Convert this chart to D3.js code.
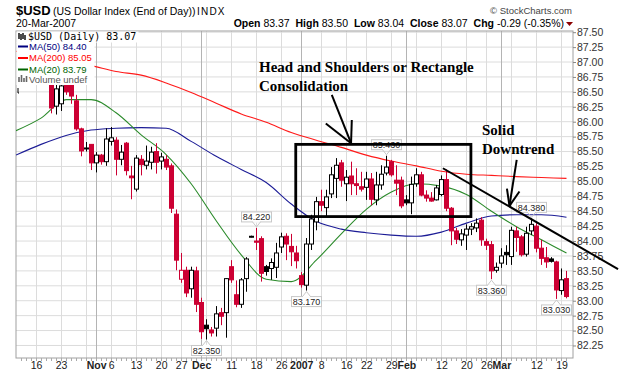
<!DOCTYPE html>
<html>
<head>
<meta charset="utf-8">
<script src="https://cdn.jsdelivr.net/npm/d3@7"></script>
<style>
    body { margin: 0; background: #fff; }
    svg { display: block; }
</style>
</head>
<body>
<svg id="chart" width="620" height="376" font-family="'Liberation Sans', Arial, sans-serif"></svg>
<script>
// trading days shown on the chart
const dates = [
    '2006-10-11','2006-10-12','2006-10-13','2006-10-16','2006-10-17','2006-10-18','2006-10-19','2006-10-20',
    '2006-10-23','2006-10-24','2006-10-25','2006-10-26','2006-10-27','2006-10-30','2006-10-31',
    '2006-11-01','2006-11-02','2006-11-03','2006-11-06','2006-11-07','2006-11-08','2006-11-09','2006-11-10',
    '2006-11-13','2006-11-14','2006-11-15','2006-11-16','2006-11-17','2006-11-20','2006-11-21','2006-11-22',
    '2006-11-24','2006-11-27','2006-11-28','2006-11-29','2006-11-30',
    '2006-12-01','2006-12-04','2006-12-05','2006-12-06','2006-12-07','2006-12-08','2006-12-11','2006-12-12',
    '2006-12-13','2006-12-14','2006-12-15','2006-12-18','2006-12-19','2006-12-20','2006-12-21','2006-12-22',
    '2006-12-26','2006-12-27','2006-12-28','2006-12-29',
    '2007-01-02','2007-01-03','2007-01-04','2007-01-05','2007-01-08','2007-01-09','2007-01-10','2007-01-11',
    '2007-01-12','2007-01-16','2007-01-17','2007-01-18','2007-01-19','2007-01-22','2007-01-23','2007-01-24',
    '2007-01-25','2007-01-26','2007-01-29','2007-01-30','2007-01-31',
    '2007-02-01','2007-02-02','2007-02-05','2007-02-06','2007-02-07','2007-02-08','2007-02-09','2007-02-12',
    '2007-02-13','2007-02-14','2007-02-15','2007-02-16','2007-02-20','2007-02-21','2007-02-22','2007-02-23',
    '2007-02-26','2007-02-27','2007-02-28',
    '2007-03-01','2007-03-02','2007-03-05','2007-03-06','2007-03-07','2007-03-08','2007-03-09','2007-03-12',
    '2007-03-13','2007-03-14','2007-03-15','2007-03-16','2007-03-19','2007-03-20'
];

const open = [
    86.95, 87.02, 87.20, 87.28, 87.05, 87.12, 86.72, 86.26, 86.30, 86.80, 86.75, 86.35, 85.88, 85.55, 85.62,
    85.31, 85.44, 85.33, 85.67, 85.69, 85.37, 85.64, 85.09, 84.87, 85.37, 85.27, 85.32, 85.50, 85.34, 85.37,
    85.26, 84.45, 83.36, 83.51, 83.20, 83.50,
    82.97, 82.59, 82.51, 82.54, 82.80, 82.80, 83.57, 83.10, 82.94, 83.37, 84.07, 84.00, 84.04, 83.57, 83.54,
    83.56, 83.90, 84.08, 83.91, 83.80,
    83.42, 83.26, 83.95, 84.32, 84.66, 84.56, 84.79, 85.05, 85.31, 84.96, 85.09, 84.96, 84.91, 84.90, 85.04,
    84.69, 84.94, 85.14, 85.33, 85.02, 85.02,
    84.69, 84.64, 84.96, 85.11, 84.77, 84.72, 84.69, 84.78, 85.03, 84.55, 84.17, 84.02, 84.10, 84.20, 84.22,
    84.35, 83.99, 83.94, 83.51,
    83.63, 83.81, 83.74, 84.17, 84.07, 83.78, 84.17, 84.25, 83.88, 83.72, 83.70, 83.65, 83.17, 83.37
];
const high = [
    87.10, 87.25, 87.35, 87.33, 87.20, 87.16, 86.78, 86.65, 86.75, 86.86, 86.80, 86.45, 85.90, 85.66, 85.62,
    85.49, 85.46, 85.89, 85.91, 85.74, 85.61, 85.66, 85.26, 85.44, 85.44, 85.60, 85.58, 85.64, 85.48, 85.44,
    85.30, 84.53, 83.80, 83.57, 83.57, 83.57,
    83.05, 82.69, 82.56, 82.91, 82.88, 83.38, 83.68, 83.34, 83.38, 83.73, 84.09, 84.22, 84.08, 83.60, 83.71,
    83.97, 84.14, 84.13, 84.12, 83.92,
    83.48, 84.05, 84.44, 84.74, 84.86, 84.86, 85.24, 85.39, 85.36, 85.19, 85.33, 85.22, 85.16, 85.16, 85.14,
    85.16, 85.27, 85.43, 85.36, 85.27, 85.08,
    84.77, 85.08, 85.22, 85.16, 84.85, 84.82, 84.94, 85.10, 85.20, 84.57, 84.22, 84.20, 84.28, 84.30, 84.38,
    84.40, 84.04, 84.00, 83.64,
    83.88, 83.93, 84.24, 84.24, 84.10, 84.24, 84.38, 84.30, 84.02, 83.90, 83.73, 83.67, 83.54, 83.50
];
const low = [
    86.88, 86.95, 87.05, 86.98, 86.90, 86.86, 86.14, 86.12, 86.18, 86.45, 86.30, 85.85, 85.42, 85.50, 85.19,
    85.15, 85.28, 85.26, 85.60, 85.10, 85.27, 85.10, 84.70, 84.83, 85.10, 85.20, 85.20, 85.13, 85.20, 85.19,
    84.47, 83.51, 83.30, 83.06, 83.05, 82.81,
    82.36, 82.35, 82.40, 82.40, 82.59, 82.38, 83.30, 82.89, 82.88, 83.15, 84.06, 83.85, 83.32, 83.42, 83.35,
    83.38, 83.80, 83.68, 83.58, 83.54,
    83.22, 83.17, 83.85, 84.18, 84.50, 84.41, 84.72, 84.72, 84.91, 84.67, 84.77, 84.77, 84.83, 84.69, 84.60,
    84.60, 84.86, 85.10, 85.08, 84.77, 84.55,
    84.60, 84.45, 84.91, 84.75, 84.66, 84.66, 84.68, 84.75, 84.50, 83.93, 83.95, 83.92, 83.85, 84.10, 84.15,
    83.92, 83.85, 83.36, 83.47,
    83.55, 83.60, 83.60, 83.82, 83.74, 83.74, 84.10, 83.81, 83.60, 83.55, 83.64, 83.03, 83.10, 83.04
];
const close = [
    87.02, 87.20, 87.28, 87.05, 87.12, 86.92, 86.23, 86.55, 86.60, 86.50, 86.43, 85.88, 85.51, 85.56, 85.31,
    85.44, 85.33, 85.71, 85.73, 85.37, 85.49, 85.18, 85.06, 85.39, 85.28, 85.34, 85.49, 85.32, 85.41, 85.24,
    84.55, 83.68, 83.51, 83.13, 83.51, 82.94,
    82.48, 82.53, 82.46, 82.78, 82.74, 83.37, 83.35, 82.94, 83.35, 83.70, 84.08, 83.98, 83.46, 83.49, 83.64,
    83.80, 84.07, 83.95, 83.82, 83.67,
    83.27, 83.95, 84.37, 84.66, 84.60, 84.74, 85.11, 85.27, 85.02, 85.07, 84.96, 84.93, 84.87, 85.04, 84.70,
    84.94, 85.12, 85.24, 85.11, 84.97, 84.59,
    84.64, 84.95, 85.11, 84.77, 84.72, 84.67, 84.89, 85.03, 84.55, 84.17, 84.03, 84.12, 84.20, 84.24, 84.30,
    84.02, 83.93, 83.50, 83.56,
    83.75, 83.77, 84.18, 84.06, 83.77, 84.13, 84.28, 83.88, 83.71, 83.65, 83.66, 83.18, 83.35, 83.07
];

// moving averages, read every fifth trading day (index into dates)
const maIdx = [-1, 4, 9, 14, 19, 24, 29, 34, 39, 44, 49, 54, 59, 64, 69, 74, 79, 84, 89, 94, 99, 104, 109];
const ma50 = [85.44, 85.62, 85.77, 85.86, 85.89, 85.90, 85.89, 85.67, 85.42, 85.20, 84.98, 84.62,
    84.33, 84.20, 84.14, 84.10, 84.08, 84.15, 84.30, 84.42, 84.44, 84.44, 84.40];
const ma200 = [87.18, 87.10, 87.02, 86.94, 86.84, 86.78, 86.65, 86.49, 86.31, 86.13, 85.99, 85.82,
    85.69, 85.57, 85.44, 85.34, 85.26, 85.17, 85.12, 85.10, 85.08, 85.065, 85.05];
const ma20 = [85.85, 86.06, 86.37, 86.37, 86.15, 85.78, 85.45, 84.96, 84.34, 83.77, 83.36, 83.32,
    83.68, 84.12, 84.53, 84.82, 84.96, 84.92, 84.78, 84.50, 84.24, 84.02, 83.80];

const yTicks = [82.25, 82.50, 82.75, 83.00, 83.25, 83.50, 83.75, 84.00, 84.25, 84.50, 84.75,
    85.00, 85.25, 85.50, 85.75, 86.00, 86.25, 86.50, 86.75, 87.00, 87.25, 87.50];
const tickDates = ['2006-10-16','2006-10-23','2006-11-01','2006-11-06','2006-11-13','2006-11-20','2006-11-27',
    '2006-12-01','2006-12-11','2006-12-18','2006-12-26','2007-01-02','2007-01-08','2007-01-16','2007-01-22',
    '2007-01-29','2007-02-01','2007-02-12','2007-02-20','2007-02-26','2007-03-01','2007-03-12','2007-03-19'];
const tickLabels = ['16','23','Nov','6','13','20','27','Dec','11','18','26','2007','8','16','22','29','Feb',
    '12','20','26','Mar','12','19'];

// marked highs / lows
const markIdx = [47, 73, 102, 37, 57, 94, 107];
const markKind = ['high', 'high', 'high', 'low', 'low', 'low', 'low'];

const svg = d3.select('#chart');
const plot = {left: 16, right: 573, top: 31, bottom: 358};
const red = '#cc0033';
const sans = '"Liberation Sans", Arial, sans-serif';
const parse = d3.timeParse('%Y-%m-%d');
const days = dates.map(parse);

const x = d3.scaleLinear().domain([-1, 110.3]).range([plot.left, plot.right]);
const y = d3.scaleLinear().domain([82.04, 87.52]).range([plot.bottom, plot.top]);

svg.append('defs').append('clipPath').attr('id', 'clip')
    .append('rect')
    .attr('x', plot.left).attr('y', plot.top)
    .attr('width', plot.right - plot.left).attr('height', plot.bottom - plot.top);

// header
svg.append('text').attr('x', 16).attr('y', 15)
    .attr('font-size', 13).attr('font-weight', 'bold').text('$USD');
svg.append('text').attr('x', 53).attr('y', 15)
    .attr('font-size', 10.5).text('(US Dollar Index (End of Day))');
svg.append('text').attr('x', 197).attr('y', 15)
    .attr('font-size', 10).attr('letter-spacing', 1.2).text('INDX');
svg.append('text').attr('x', 16).attr('y', 27)
    .attr('font-size', 10.5).text('20-Mar-2007');
svg.append('text').attr('x', 572).attr('y', 14).attr('text-anchor', 'end')
    .attr('font-size', 9.5).attr('fill', '#444').text('\u00a9 StockCharts.com');

let quote = svg.append('text').attr('x', 564).attr('y', 27)
    .attr('text-anchor', 'end').attr('font-size', 10.5);
[['Open', ' 83.37  '], ['High', ' 83.50  '], ['Low', ' 83.04  '], ['Close', ' 83.07  '], ['Chg', ' -0.29 (-0.35%)']]
    .forEach(p => {
        quote.append('tspan').attr('font-weight', 'bold').text(p[0]);
        quote.append('tspan').attr('xml:space', 'preserve').text(p[1]);
    });
svg.append('path').attr('d', 'M566,22 L573,22 L569.5,26 Z').attr('fill', '#8b0000');

// grid
let grid = svg.append('g');
grid.selectAll('.hgrid')
    .data(yTicks)
    .enter()
    .append('line')
    .attr('x1', plot.left).attr('x2', plot.right)
    .attr('y1', d => y(d)).attr('y2', d => y(d))
    .attr('stroke', '#dcdcdc');

let gridIdx = d3.range(1, days.length).filter(i => {
    return d3.timeMonday.floor(days[i]) > d3.timeMonday.floor(days[i - 1]) ||
        days[i].getMonth() !== days[i - 1].getMonth();
});
grid.selectAll('.vgrid')
    .data(gridIdx)
    .enter()
    .append('line')
    .attr('x1', i => Math.round(x(i)) + 0.5).attr('x2', i => Math.round(x(i)) + 0.5)
    .attr('y1', plot.top).attr('y2', plot.bottom)
    .attr('stroke', i => days[i].getMonth() !== days[i - 1].getMonth() ? '#b4b4b4' : '#dcdcdc');

svg.append('rect')
    .attr('x', plot.left).attr('y', plot.top)
    .attr('width', plot.right - plot.left).attr('height', plot.bottom - plot.top)
    .attr('fill', 'none').attr('stroke', '#a0a0a0');

// axes
svg.append('g')
    .attr('transform', `translate(${plot.right},0)`)
    .call(d3.axisRight(y).tickValues(yTicks).tickSize(3).tickPadding(1).tickFormat(d3.format('.2f')))
    .call(g => g.select('.domain').remove())
    .call(g => g.selectAll('line').attr('stroke', '#888'))
    .call(g => g.selectAll('text')
        .attr('font-family', sans)
        .attr('font-size', 10.5).attr('fill', '#333'));

svg.append('g')
    .selectAll('line')
    .data(d3.range(days.length))
    .enter()
    .append('line')
    .attr('x1', i => Math.round(x(i)) + 0.5).attr('x2', i => Math.round(x(i)) + 0.5)
    .attr('y1', plot.bottom).attr('y2', plot.bottom + 3)
    .attr('stroke', '#aaa');

let tickIdx = tickDates.map(d => dates.indexOf(d));
svg.append('g')
    .attr('transform', `translate(0,${plot.bottom})`)
    .call(d3.axisBottom(x).tickValues(tickIdx).tickSize(0).tickPadding(4)
        .tickFormat((d, i) => tickLabels[i]))
    .call(g => g.select('.domain').remove())
    .call(g => g.selectAll('text')
        .attr('font-family', sans)
        .attr('font-size', 10.5).attr('fill', '#222')
        .attr('font-weight', (d, i) => /^\d{1,2}$/.test(tickLabels[i]) ? 'normal' : 'bold'));

// moving averages
let body = svg.append('g').attr('clip-path', 'url(#clip)');
let maLine = values => d3.line()
    .x((d, i) => x(maIdx[i]))
    .y(d => y(d))
    .curve(d3.curveMonotoneX)(values);

[[ma200, '#ff1a1a'], [ma50, '#1c1c96'], [ma20, '#2a8a2a']].forEach(m => {
    body.append('path')
        .attr('d', maLine(m[0]))
        .attr('fill', 'none')
        .attr('stroke', m[1])
        .attr('stroke-width', 1.1);
});

// candles
let candles = body.selectAll('.candle')
    .data(d3.range(days.length))
    .enter()
    .append('g');

let colorOf = i => (i > 0 && close[i] < close[i - 1]) ? red : '#000';

candles.append('line')
    .attr('x1', i => Math.round(x(i)) + 0.5).attr('x2', i => Math.round(x(i)) + 0.5)
    .attr('y1', i => y(high[i])).attr('y2', i => y(low[i]))
    .attr('stroke', colorOf);

candles.append('rect')
    .attr('x', i => Math.round(x(i)) - 1.5)
    .attr('width', 4)
    .attr('y', i => y(Math.max(open[i], close[i])))
    .attr('height', i => Math.max(1, Math.abs(y(open[i]) - y(close[i]))))
    .attr('fill', i => close[i] > open[i] ? '#fff' : colorOf(i))
    .attr('stroke', colorOf);

// high / low marks
let marks = svg.append('g');
markIdx.forEach((i, k) => {
    let isHigh = markKind[k] === 'high';
    let v = isHigh ? high[i] : low[i];
    let cx = Math.round(x(i)) + 0.5;
    let py = y(v);
    let w = 30, h = 10, gap = 6;
    let top = isHigh ? py - gap - h : py + gap;
    let edge = isHigh ? top + h : top;
    let tip = isHigh ? py - 1 : py + 1;

    marks.append('rect')
        .attr('x', cx - w / 2).attr('y', top)
        .attr('width', w).attr('height', h)
        .attr('fill', '#fff').attr('stroke', '#c8c8c8');
    marks.append('line')
        .attr('x1', cx - 3.5).attr('x2', cx + 3.5)
        .attr('y1', edge).attr('y2', edge)
        .attr('stroke', '#fff').attr('stroke-width', 1.5);
    marks.append('path')
        .attr('d', `M${cx - 4},${edge} L${cx},${tip} L${cx + 4},${edge}`)
        .attr('fill', 'none').attr('stroke', '#c8c8c8');
    marks.append('text')
        .attr('x', cx).attr('y', top + h - 1.5)
        .attr('text-anchor', 'middle')
        .attr('font-size', 9).attr('fill', '#222')
        .text(d3.format('.3f')(v));
});

// annotations (in index / price units)
let anno = svg.append('g').attr('stroke', '#000').attr('fill', 'none');
anno.append('rect')
    .attr('x', x(54.9)).attr('y', y(85.62))
    .attr('width', x(89.9) - x(54.9)).attr('height', y(84.41) - y(85.62))
    .attr('stroke-width', 2.8);

let seg = (a, b, w) => anno.append('line')
    .attr('x1', x(a[0])).attr('y1', y(a[1]))
    .attr('x2', x(b[0])).attr('y2', y(b[1]))
    .attr('stroke-width', w);

// trend line
seg([84.3, 85.22], [119.3, 83.53], 2);
// arrow to the rectangle
seg([62.1, 86.45], [65.95, 85.64], 2);
seg([60.9, 85.97], [65.95, 85.64], 2);
seg([66.1, 86.03], [65.95, 85.64], 2);
// arrow to the trend line
seg([99.05, 85.36], [97.6, 84.59], 2);
seg([97.1, 84.88], [97.6, 84.59], 2);
seg([99.6, 84.83], [97.6, 84.59], 2);

let note = svg.append('g')
    .style('font-family', '"Liberation Serif", "Times New Roman", serif')
    .attr('font-weight', 'bold').attr('font-size', 15).attr('fill', '#000');
note.append('text').attr('x', 259).attr('y', 72).text('Head and Shoulders or Rectangle');
note.append('text').attr('x', 259).attr('y', 91).text('Consolidation');
note.append('text').attr('x', 482).attr('y', 135).text('Solid');
note.append('text').attr('x', 482).attr('y', 154).text('Downtrend');

// legend
let legend = svg.append('g');
legend.append('rect').attr('x', 16.5).attr('y', 31.5).attr('width', 122).attr('height', 11).attr('fill', '#fff');
legend.append('rect').attr('x', 16.5).attr('y', 42).attr('width', 78).attr('height', 43).attr('fill', '#fff');
legend.append('path').attr('d', 'M19,33 L19,39 M21,34 L21,40 M23,33 L23,39 M25,35 L25,40')
    .attr('stroke', '#000').attr('stroke-width', 1.4);
legend.append('text').attr('x', 28).attr('y', 40)
    .style('font-family', '"DejaVu Sans Mono", monospace').attr('font-size', 10)
    .text('$USD (Daily) 83.07');

[['MA(50) 84.40', '#000080', 49.5], ['MA(200) 85.05', '#ff0000', 61], ['MA(20) 83.79', '#006400', 72.5]]
    .forEach(r => {
        legend.append('line')
            .attr('x1', 18).attr('x2', 28).attr('y1', r[2] - 3).attr('y2', r[2] - 3)
            .attr('stroke', r[1]).attr('stroke-width', 2);
        legend.append('text').attr('x', 29).attr('y', r[2])
            .attr('font-size', 9.5).attr('fill', r[1]).text(r[0]);
    });
legend.append('path').attr('d', 'M19,82 L19,77 M21.5,82 L21.5,75 M24,82 L24,78 M26.5,82 L26.5,76')
    .attr('stroke', '#666').attr('stroke-width', 1.6);
legend.append('text').attr('x', 29).attr('y', 82.5)
    .attr('font-size', 9.5).attr('fill', '#555').text('Volume undef');
legend.append('path').attr('d', 'M18,88 L18,93 L19,93').attr('stroke', '#000').attr('fill', 'none');
</script>
</body>
</html>
